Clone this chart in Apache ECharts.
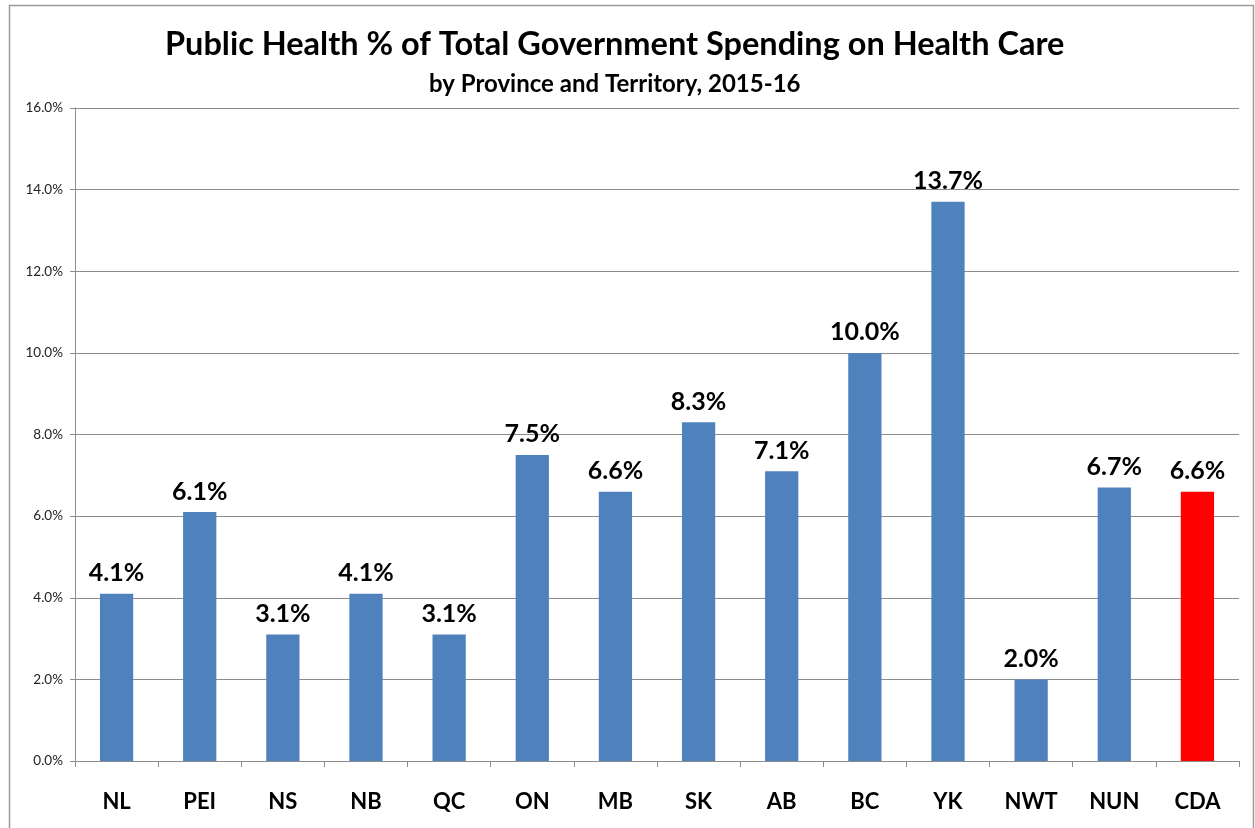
<!DOCTYPE html>
<html>
<head>
<meta charset="utf-8">
<title>Public Health % of Total Government Spending on Health Care</title>
<script src="https://cdn.jsdelivr.net/npm/echarts@6/dist/echarts.min.js"></script>
<style>
  html, body { margin: 0; padding: 0; background: #fff; }
  #chart { width: 1255px; height: 828px; }
</style>
</head>
<body>
<div id="chart"></div>
<script>
// Provinces / territories and the national figure
const categories = ['NL', 'PEI', 'NS', 'NB', 'QC', 'ON', 'MB', 'SK', 'AB', 'BC', 'YK', 'NWT', 'NUN', 'CDA'];
// Public health share of total government health spending, percent
const publicHealthShare = [4.1, 6.1, 3.1, 4.1, 3.1, 7.5, 6.6, 8.3, 7.1, 10.0, 13.7, 2.0, 6.7, 6.6];
// Value axis ticks (percent)
const yTicks = [0, 2, 4, 6, 8, 10, 12, 14, 16];

const titleText = 'Public Health % of Total Government Spending on Health Care';
const subtitleText = 'by Province and Territory, 2015-16';

const BAR_BLUE = '#4F81BD';
const NATIONAL_RED = '#FF0000';
const FONT = 'Lato, "Open Sans", sans-serif';

const chart = echarts.init(document.getElementById('chart'), null, { renderer: 'canvas' });

chart.setOption({
  backgroundColor: '#ffffff',
  animation: false,
  graphic: [{
    type: 'rect',
    shape: { x: 9.5, y: 5.5, width: 1244, height: 840 },
    style: { fill: 'none', stroke: '#9a9a9a', lineWidth: 1.5 },
    silent: true,
    z: -1
  }],
  title: [{
    text: titleText,
    left: 160,
    top: 23,
    textStyle: { fontFamily: FONT, fontWeight: 'bold', fontSize: 32.5, color: '#000' }
  }, {
    text: subtitleText,
    left: 424,
    top: 67,
    textStyle: { fontFamily: FONT, fontWeight: 'bold', fontSize: 24, color: '#000' }
  }],
  grid: { left: 75, right: 16, top: 108, bottom: 67, containLabel: false },
  xAxis: {
    type: 'category',
    data: categories,
    boundaryGap: true,
    axisLine: { show: true, lineStyle: { color: '#8c8c8c', width: 1 } },
    axisTick: { show: true, alignWithLabel: false, length: 6, lineStyle: { color: '#8c8c8c' } },
    axisLabel: {
      margin: 30,
      fontFamily: FONT, fontWeight: 'bold', fontSize: 22, color: '#000'
    },
    splitLine: { show: false }
  },
  yAxis: {
    type: 'value',
    min: yTicks[0],
    max: yTicks[yTicks.length - 1],
    interval: yTicks[1] - yTicks[0],
    axisLine: { show: true, lineStyle: { color: '#8c8c8c', width: 1 } },
    axisTick: { show: true, length: 5, lineStyle: { color: '#8c8c8c' } },
    axisLabel: {
      margin: 12,
      fontFamily: FONT, fontSize: 13.5, color: '#222',
      formatter: v => v.toFixed(1) + '%'
    },
    splitLine: { show: true, lineStyle: { color: '#8c8c8c', width: 1 } }
  },
  series: [{
    type: 'bar',
    data: publicHealthShare.map((v, i) => ({
      value: v,
      itemStyle: { color: categories[i] === 'CDA' ? NATIONAL_RED : BAR_BLUE }
    })),
    barCategoryGap: '60%',
    label: {
      show: true,
      position: 'top',
      distance: 8,
      fontFamily: FONT, fontWeight: 'bold', fontSize: 25, color: '#000',
      formatter: p => p.value.toFixed(1) + '%'
    }
  }]
});
</script>
</body>
</html>
